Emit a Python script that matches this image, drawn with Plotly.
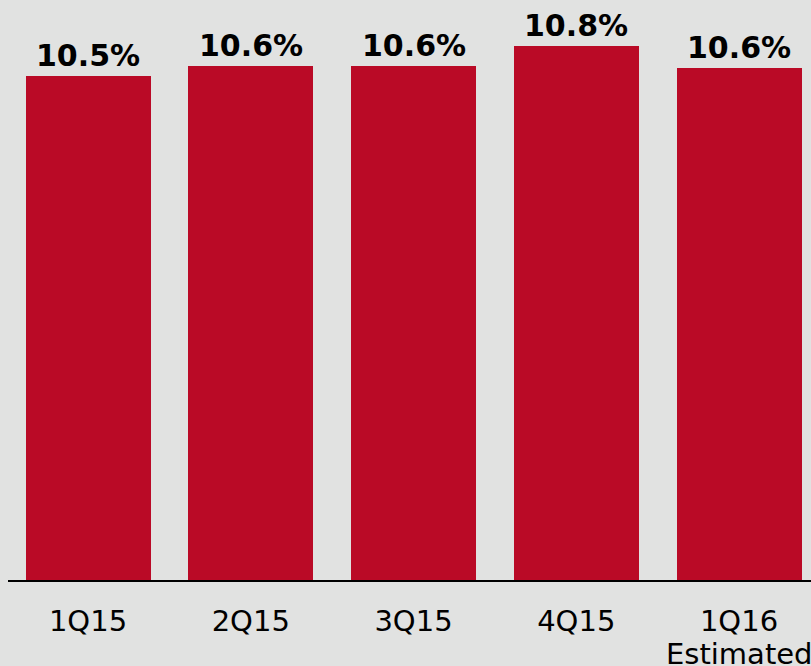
import plotly.graph_objects as go

categories = ["1Q15", "2Q15", "3Q15", "4Q15", "1Q16"]
tick_labels = ["1Q15", "2Q15", "3Q15", "4Q15", "1Q16"]
sub_labels = ["", "", "", "", "Estimated"]
values = [10.5, 10.6, 10.6, 10.8, 10.58]
value_labels = ["10.5%", "10.6%", "10.6%", "10.8%", "10.6%"]

BAR = "#BA0A26"
BG = "#E1E2E1"

fig = go.Figure()
fig.add_trace(go.Bar(
    x=list(range(len(categories))),
    y=values,
    marker=dict(color=BAR, line=dict(width=0)),
    width=0.768,
    hoverinfo="skip",
))

for i, (v, t) in enumerate(zip(values, value_labels)):
    fig.add_annotation(
        x=i, y=v, text=t, showarrow=False,
        yanchor="bottom", yshift=1,
        font=dict(family="DejaVu Sans", size=30, color="#000000", weight="bold"),
    )

for i, s in enumerate(sub_labels):
    if s:
        fig.add_annotation(
            x=i, xref="x", y=0, yref="paper", text=s, showarrow=False,
            yanchor="top", yshift=-55,
            font=dict(family="DejaVu Sans", size=29, color="#000000"),
        )

fig.update_layout(
    width=811, height=666,
    paper_bgcolor=BG, plot_bgcolor=BG,
    margin=dict(l=8, r=0, t=0, b=86, autoexpand=False),
    showlegend=False,
    bargap=0,
    xaxis=dict(
        range=[-0.4916, 4.4423],
        tickvals=list(range(len(categories))),
        ticktext=tick_labels,
        showgrid=False, zeroline=False,
        showline=True, linecolor="#000000", linewidth=2,
        ticks="", ticklabelstandoff=14,
        ticklabeloverflow="allow",
        automargin=False,
        tickfont=dict(family="DejaVu Sans", size=29, color="#000000"),
    ),
    yaxis=dict(
        range=[5.51, 11.252],
        visible=False, showgrid=False, zeroline=False,
        automargin=False,
    ),
)

fig.write_html(
    "out.html",
    config={"displayModeBar": False},
    post_script="document.body.style.margin='0';document.body.style.padding='0';document.body.style.background='" + BG + "';",
)
